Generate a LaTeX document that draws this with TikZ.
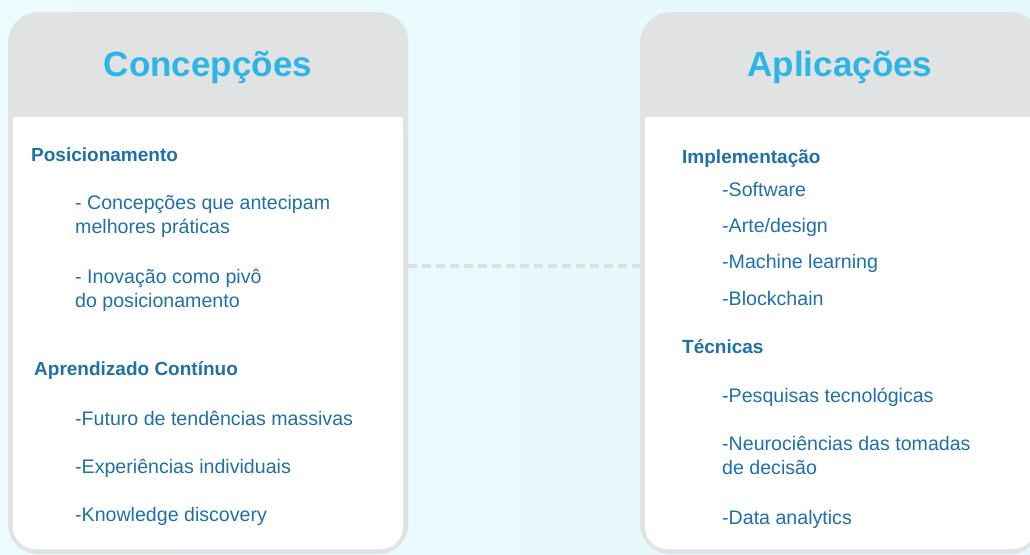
\documentclass[tikz,border=0pt]{standalone}
\usepackage{fontspec}
\setmainfont{Liberation Sans}
\usepackage{xcolor}
\usepackage{tikz}
\usetikzlibrary{positioning}
\definecolor{cardgray}{RGB}{225,226,226}
\definecolor{linkgray}{RGB}{221,224,225}
\definecolor{titlecyan}{RGB}{43,181,232}
\definecolor{textblue}{RGB}{31,112,168}
\definecolor{bgleft}{RGB}{236,251,253}
\definecolor{bgright}{RGB}{229,248,252}
\newcommand{\ideacard}[3]{%
  \node[fill=cardgray,rounded corners=30pt,minimum width=400pt,minimum height=542pt,
        inner sep=0pt,anchor=north west] (#2) at (#1,12) {};%
  \fill[white,rounded corners=22pt] (#1+5,117) rectangle (#1+395,549);%
  \fill[white] (#1+5,117) rectangle (#1+395,180);%
  \node[anchor=base,font=\bfseries\fontsize{35}{40}\selectfont,text=titlecyan]
        (#2-title) at (#1+200,76) {#3};%
}

\begin{document}
\begin{tikzpicture}[x=1pt,y=-1pt,
    head/.style={anchor=base west,font=\bfseries\fontsize{19}{24}\selectfont,text=textblue,inner sep=0pt},
    entry/.style={anchor=base west,font=\fontsize{19.6}{24}\selectfont,text=textblue,inner sep=0pt,align=left}]
  \clip (0,0) rectangle (1030,554);
  \shade[left color=bgleft,right color=bgright] (0,0) rectangle (1030,554);
  \ideacard{8}{concep}{Concepções}
  \ideacard{640}{aplic}{Aplicações}
  \draw[linkgray,line width=4pt,dash pattern=on 9pt off 5pt]
    ([yshift=17pt]concep.east) -- ([yshift=17pt]aplic.west);
  % left column (two-line entries sit on their last baseline)
  \node[head]  (posic)  at (31,161)  {Posicionamento};
  \node[entry] (posic1) at (75,233)  {- Concepções que antecipam\\melhores práticas};
  \node[entry] (posic2) at (75,307)  {- Inovação como pivô\\do posicionamento};
  \node[head]  (aprend) at (34,375)  {Aprendizado Contínuo};
  \node[entry] (aprend1) at (75,425) {-Futuro de tendências massivas};
  \node[entry] (aprend2) at (75,473) {-Experiências individuais};
  \node[entry] (aprend3) at (75,521) {-Knowledge discovery};
  % right column
  \node[head]  (impl)  at (682,163)  {Implementação};
  \node[entry] (impl1) at (722,196)  {-Software};
  \node[entry] (impl2) at (722,232)  {-Arte/design};
  \node[entry] (impl3) at (722,268)  {-Machine learning};
  \node[entry] (impl4) at (722,305)  {-Blockchain};
  \node[head]  (tecn)  at (682,353)  {Técnicas};
  \node[entry] (tecn1) at (722,402)  {-Pesquisas tecnológicas};
  \node[entry] (tecn2) at (722,474)  {-Neurociências das tomadas\\de decisão};
  \node[entry] (tecn3) at (722,524)  {-Data analytics};
\end{tikzpicture}
\end{document}
